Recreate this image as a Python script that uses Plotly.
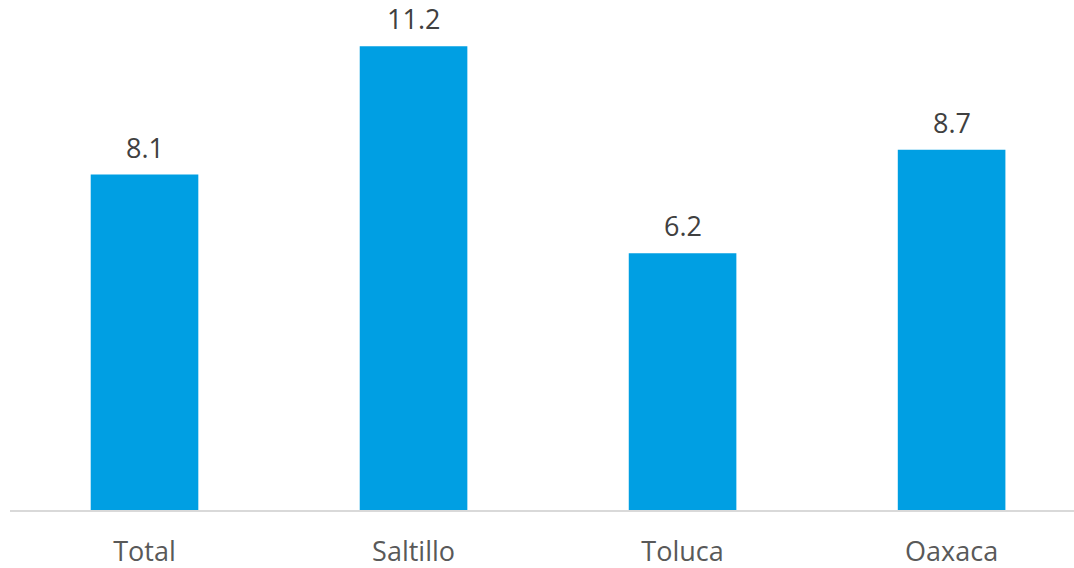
import plotly.graph_objects as go

categories = ["Total", "Saltillo", "Toluca", "Oaxaca"]
values = [8.1, 11.2, 6.2, 8.7]
value_labels = ["8.1", "11.2", "6.2", "8.7"]

fig = go.Figure(go.Bar(
    x=categories, y=values,
    marker=dict(color="#009FE3", line=dict(width=0)),
    width=0.4, cliponaxis=False,
))

for c, v, t in zip(categories, values, value_labels):
    fig.add_annotation(
        x=c, y=v, text=t, showarrow=False, yanchor="bottom", yshift=7,
        font=dict(family="Open Sans", size=27, color="#404040"),
    )

fig.update_layout(
    width=1074, height=568,
    margin=dict(l=10, r=0, t=13, b=58, autoexpand=False),
    paper_bgcolor="white", plot_bgcolor="white",
    showlegend=False,
    font=dict(family="Open Sans"),
    xaxis=dict(
        range=[-0.5, 3.455], showline=True, linecolor="#d9d9d9", linewidth=2,
        ticks="", tickfont=dict(size=27, color="#595959"), showgrid=False,
        ticklabelstandoff=17, automargin=False,
    ),
    yaxis=dict(range=[0, 12], visible=False, showgrid=False, zeroline=False,
               automargin=False),
    bargap=0.6,
)

fig.write_html("out.html")
